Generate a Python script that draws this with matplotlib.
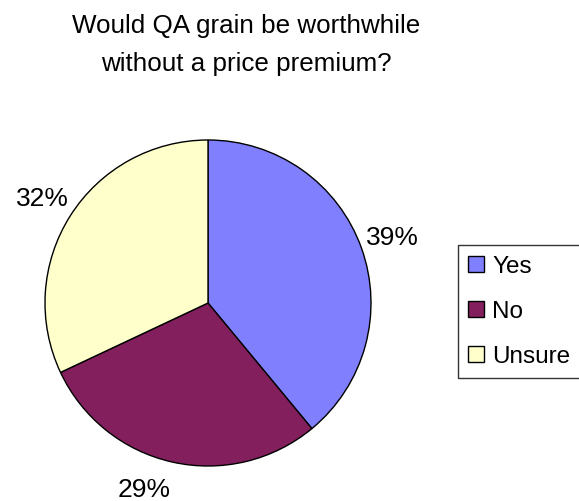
import matplotlib
matplotlib.use("Agg")
import matplotlib.pyplot as plt
from matplotlib.patches import Patch
import numpy as np

categories = ["Yes", "No", "Unsure"]
values = [39, 29, 32]
colors = ["#8080FF", "#841F5E", "#FFFFCC"]
title_lines = ["Would QA grain be worthwhile", "without a price premium?"]

plt.rcParams['font.family'] = ['Liberation Sans', 'DejaVu Sans']

fig = plt.figure(figsize=(5.79, 5.02), dpi=100)
W, H = 579, 502
cx, cy, r = 208, 304, 163
ax = fig.add_axes([(cx - r) / W, (H - cy - r) / H, 2 * r / W, 2 * r / H])
wedges, texts = ax.pie(values, colors=colors, startangle=90, counterclock=False,
                       wedgeprops=dict(edgecolor='black', linewidth=1.0),
                       labels=[f"{v}%" for v in values], labeldistance=1.2,
                       textprops=dict(fontsize=19))
for t in texts:
    t.set_ha('center')
    t.set_va('center')
# Excel places the bottom label slightly further left / higher
x, y = texts[1].get_position()
texts[1].set_position((x - 0.13, y + 0.03))
ax.set_xlim(-1, 1)
ax.set_ylim(-1, 1)
ax.set_aspect('auto')

for line, yb in zip(title_lines, [33, 71]):
    fig.text(246 / W, 1 - yb / H, line, ha='center', va='baseline', fontsize=18.7)

handles = [Patch(facecolor=c, edgecolor='black', label=l) for c, l in zip(colors, categories)]
leg = fig.legend(handles=handles, loc='upper left', bbox_to_anchor=(458 / W, 1 - 246 / H),
                 frameon=True, fancybox=False, edgecolor='black', fontsize=17.5,
                 handlelength=0.64, handleheight=0.64, handletextpad=0.35,
                 labelspacing=0.95, borderpad=0.42, borderaxespad=0)
leg.get_frame().set_linewidth(1.0)

fig.savefig("out.png", dpi=100)
